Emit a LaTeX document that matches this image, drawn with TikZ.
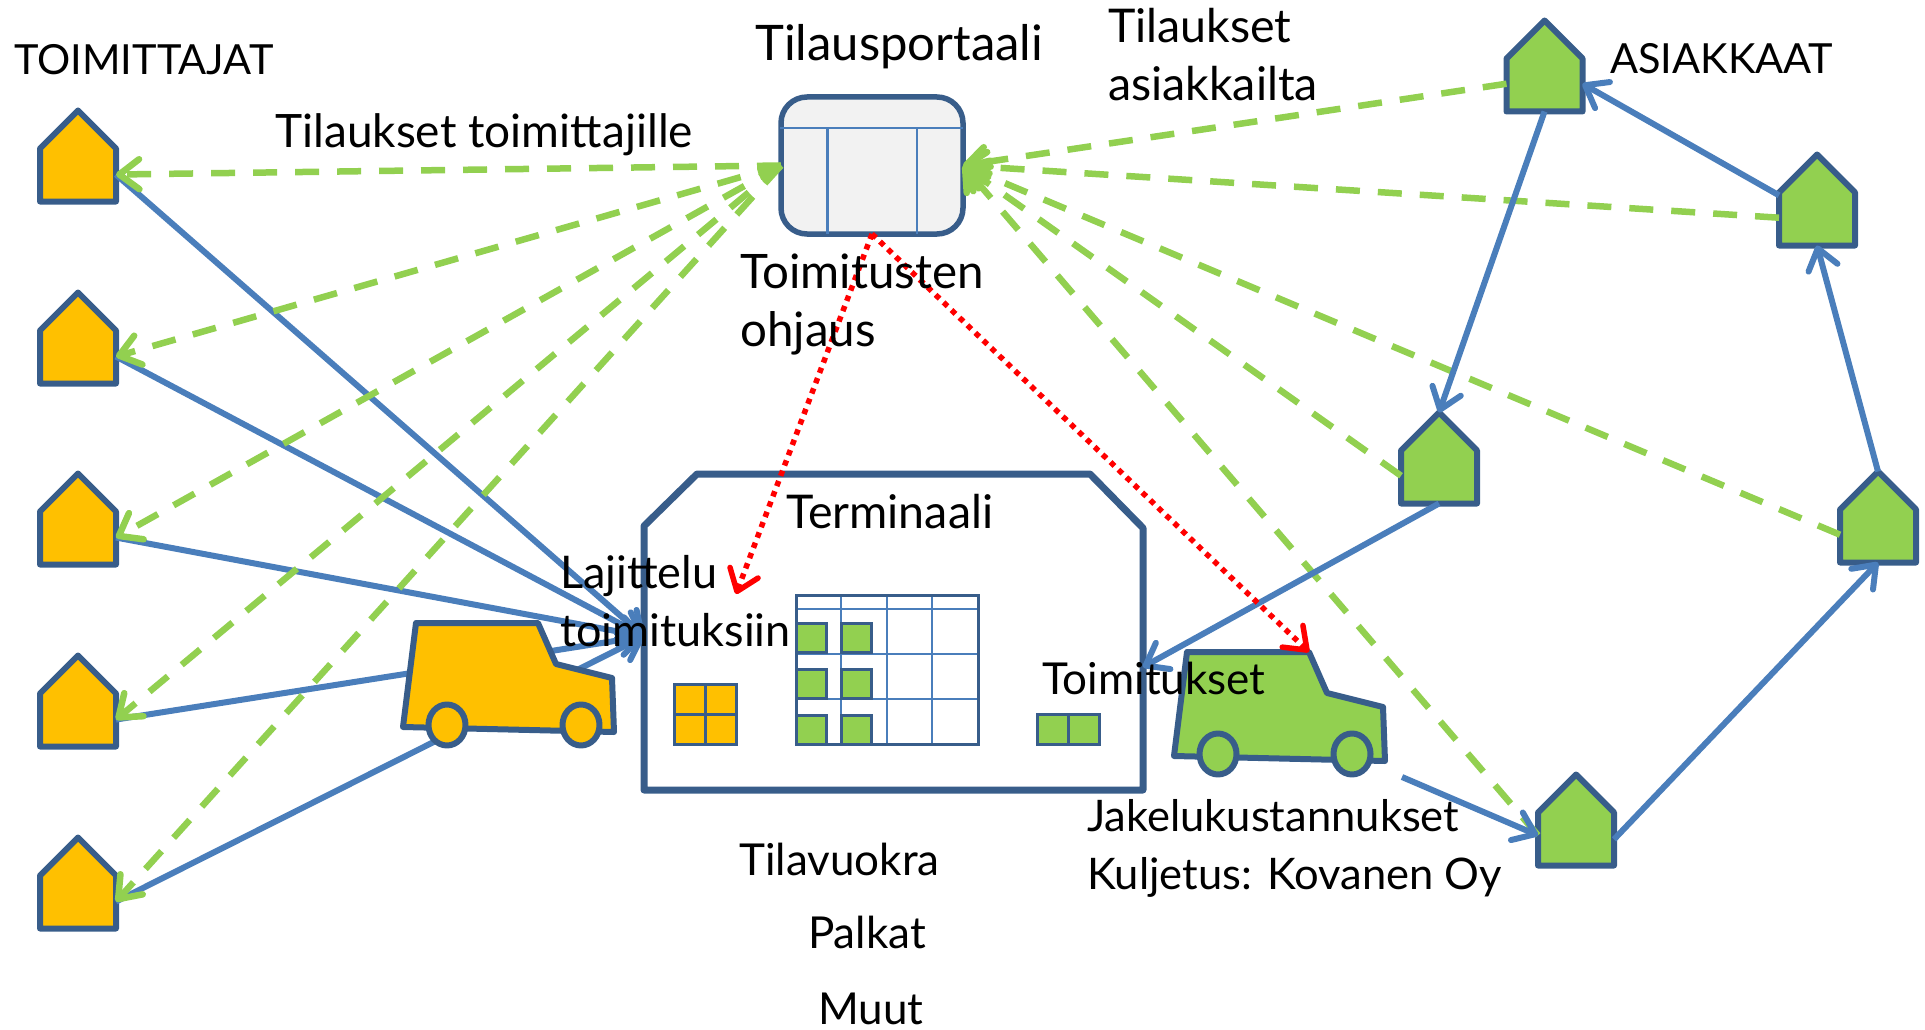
\documentclass[tikz,border=0pt]{standalone}
\usepackage{fontspec}
\setmainfont{Lato}
\usetikzlibrary{arrows.meta}
\definecolor{edgeblue}{HTML}{385D8A}
\definecolor{lineblue}{HTML}{4A7EBB}
\definecolor{ordergreen}{HTML}{92D050}
\definecolor{supplyyellow}{HTML}{FFC000}
\definecolor{portalgrey}{HTML}{F2F2F2}
\tikzset{
  housebox/.style={minimum width=76pt,minimum height=91pt,inner sep=0pt,outer sep=0pt},
  outline/.style={draw=edgeblue,line width=6pt,line join=round},
  thinline/.style={draw=edgeblue,line width=3pt},
  gridline/.style={draw=lineblue,line width=2.5pt},
  tipbarb/.style={-{Straight Barb[round,length=20pt,width=30pt]}},
  flow/.style={draw=lineblue,line width=6pt,tipbarb},
  order/.style={draw=ordergreen,line width=6.5pt,dash pattern=on 24pt off 18pt,tipbarb},
  steer/.style={draw=red,line width=5.5pt,dash pattern=on 5.5pt off 5.5pt,tipbarb},
  textlabel/.style={anchor=base west,inner sep=0pt,font=\fontsize{#1}{58}\selectfont,align=left}
}
\newcommand{\housenode}[4]{
  \node[housebox] (#1) at (#2,#3) {};
  \draw[outline,fill=#4] (#1.south west) -- ([yshift=-38pt]#1.north west) -- (#1.north)
    -- ([yshift=-38pt]#1.north east) -- (#1.south east) -- cycle;
}
\newcommand{\trucknode}[4]{
  \begin{scope}[shift={(#2,#3)}]
    \node[minimum width=211pt,minimum height=122pt,inner sep=0pt,outer sep=0pt] (#1) at (0,0) {};
    \coordinate (#1-roof) at (29.5,-61);
    \draw[outline,fill=#4] (-92.5,-61) -- (29.5,-61) -- (47.5,-20) -- (103.5,-6) -- (105.5,48) -- (-105.5,43) -- cycle;
    \draw[outline,fill=#4] (-61.5,41) ellipse [x radius=18.5pt,y radius=20.5pt];
    \draw[outline,fill=#4] (72.5,41) ellipse [x radius=18.5pt,y radius=20.5pt];
  \end{scope}
}
\begin{document}
\begin{tikzpicture}[x=1pt,y=-1pt]
  \useasboundingbox (0,0) rectangle (1925,1030);

  \foreach \name/\ypos in {s1/156,s2/338,s3/519,s4/701,s5/883}{
    \housenode{\name}{78}{\ypos}{supplyyellow}
  }
  \housenode{c1}{1544.5}{66}{ordergreen}
  \housenode{c2}{1817}{200}{ordergreen}
  \housenode{c3}{1439}{458}{ordergreen}
  \housenode{c4}{1878}{517}{ordergreen}
  \housenode{c5}{1576}{820}{ordergreen}

  % terminaali
  \node[minimum width=499pt,minimum height=316pt,inner sep=0pt,outer sep=0pt] (terminal) at (893.5,632) {};
  \draw[draw=edgeblue,line width=7pt,line join=round,fill=white] (terminal.south west) -- ([yshift=-52pt]terminal.north west)
    -- ([xshift=53pt]terminal.north west) -- ([xshift=-53pt]terminal.north east)
    -- ([yshift=-54pt]terminal.north east) -- (terminal.south east) -- cycle;

  \node[draw=edgeblue,line width=5.5pt,fill=portalgrey,rounded corners=26pt,minimum width=182pt,minimum height=137pt,inner sep=0pt,outer sep=0pt] (portal) at (872,165.5) {};
  \coordinate (portalbarL) at (780,128);
  \coordinate (portalbarR) at (963,128);
  \draw[gridline] (portalbarL) -- (portalbarR);
  \draw[draw=lineblue,line width=3pt] (827,128) -- (827,234);
  \draw[gridline] (917,128) -- (917,234);

  % virrat toimittajilta
  \foreach \name in {s1,s2,s3,s4,s5}{
    \draw[flow] (\name.-26) -- (terminal.181.4);
    \draw[order] (portal.west) -- (\name.-26);
  }
  \trucknode{yellowtruck}{508.5}{684}{supplyyellow}
  \trucknode{greentruck}{1279.5}{713}{ordergreen}

  % hyllyt
  \draw[thinline,fill=supplyyellow] (674,684) rectangle (736,744);
  \draw[thinline] (705,684) -- (705,744) (674,714) -- (736,714);
  \draw[gridline] (796,609) -- (978,609) (796,654) -- (978,654) (796,699) -- (978,699);
  \draw[gridline] (841,595) -- (841,744) (887,595) -- (887,744) (932,595) -- (932,744);
  \draw[thinline] (796,595) rectangle (978,744);
  \foreach \xpos in {796,841}{
    \foreach \ypos in {623,669,715}{
      \draw[thinline,fill=ordergreen] (\xpos,\ypos) rectangle ++(30,29);
    }
  }
  \draw[thinline,fill=ordergreen] (1037,714) rectangle (1099,744);
  \draw[thinline] (1068,714) -- (1068,744);

  % asiakkaat
  \draw[order] (c1.205) -- (portal.east);
  \draw[order] (c2.205) -- (portal.east);
  \draw[order] (c3.205) -- (portal.east);
  \draw[order] (c4.205) -- (portal.east);
  \draw[order] (c5.202) -- (portal.east);
  \coordinate (unload) at (1402,777);
  \coordinate (sorting) at (736,594);
  \draw[flow] (c1.south) -- (c3.north);
  \draw[flow] (c2.173) -- (c1.-25);
  \draw[flow] (c4.north) -- (c2.south);
  \draw[flow] (c5.-27) -- (c4.south);
  \draw[flow] (c3.south) -- (terminal.-8);
  \draw[flow] (unload) -- (c5.202);
  \draw[steer] (portal.south) -- (sorting);
  \draw[steer] (portal.south) -- (greentruck-roof);

  \node[textlabel=41.5] (suppliers) at (14,75) {TOIMITTAJAT};
  \node[textlabel=41.5] (customers) at (1610,74) {ASIAKKAAT};
  \node[textlabel=49] (portaltitle) at (755,61) {Tilausportaali};
  \node[textlabel=46.5] (ordersin) at (1108,101) {Tilaukset\\asiakkailta};
  \node[textlabel=46] (ordersout) at (275,147) {Tilaukset toimittajille};
  \node[textlabel=47.5] (steering) at (740,346) {Toimitusten\\ohjaus};
  \node[textlabel=46.5] (terminalname) at (786,528) {Terminaali};
  \node[textlabel=45] (sortname) at (560,646) {Lajittelu\\toimituksiin};
  \node[textlabel=44] (deliveries) at (1042,694) {Toimitukset};
  \node[textlabel=43.5] (distcost) at (1087,889) {Jakelukustannukset\\Kuljetus: Kovanen Oy};
  \node[textlabel=44] (rent) at (739,875) {Tilavuokra};
  \node[textlabel=44] (wages) at (808,948) {Palkat};
  \node[textlabel=44] (other) at (818,1024) {Muut};
\end{tikzpicture}
\end{document}
